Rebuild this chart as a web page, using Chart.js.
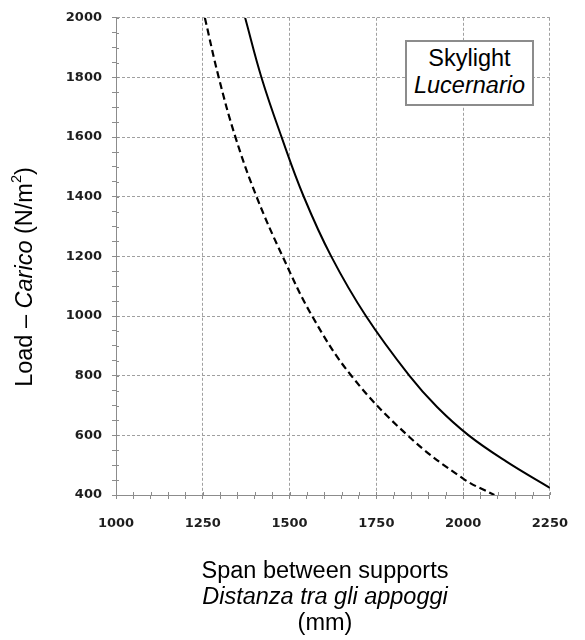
<!DOCTYPE html>
<html>
<head>
<meta charset="utf-8">
<script src="https://cdn.jsdelivr.net/npm/chart.js@4.4.1/dist/chart.umd.min.js"></script>
<style>
    body { margin: 0; background: #fff; }
    #wrap { position: relative; width: 585px; height: 640px; font-family: 'Liberation Sans', Arial, sans-serif; color: #000; }
    canvas { position: absolute; left: 0; top: 0; }
    .titulo { position: absolute; font-size: 23.5px; line-height: 26px; text-align: center; white-space: nowrap; }
    #tituloX { left: 125px; top: 557px; width: 400px; }
    #tituloY { left: -126px; top: 264px; width: 300px; height: 26px; transform: rotate(-90deg); }
    #legenda { left: 405px; top: 40px; width: 129px; height: 66px; box-sizing: border-box; border: 2px solid #8c8c8c; background: #fff; padding-top: 3px; line-height: 26.5px; }
    sup { font-size: 0.62em; line-height: 0; vertical-align: 0.75em; }
</style>
</head>
<body>
<div id="wrap">
    <canvas id="grafico" width="585" height="640"></canvas>
    <div class="titulo" id="tituloY">Load – <i>Carico</i> (N/m<sup>2</sup>)</div>
    <div class="titulo" id="tituloX">Span between supports<br><i>Distanza tra gli appoggi</i><br>(mm)</div>
    <div class="titulo" id="legenda">Skylight<br><i>Lucernario</i></div>
</div>
<script>
// valores (cruzamentos com a grade)
const vaoContinuo = [1372, 1419, 1477, 1541, 1620, 1720, 1845, 1925, 2016, 2125, 2250]
const cargaContinua = [2000, 1800, 1600, 1400, 1200, 1000, 800, 695, 600, 512, 424]

const vaoTracejado = [1256, 1296, 1344, 1405, 1480, 1565, 1678, 1840, 2000, 2090]
const cargaTracejada = [2000, 1800, 1600, 1400, 1200, 1000, 800, 600, 455, 400]

const eixoX = { min: 1000, max: 2250, passo: 50, rotulo: 250 }
const eixoY = { min: 400, max: 2000, passo: 50, rotulo: 200 }

const corGrade = '#a0a0a0'
const corEixo = '#8c8c8c'

function pontos(xs, ys) {
    return xs.map((x, i) => ({ x: x, y: ys[i] }))
}

// marcas pequenas que cruzam o eixo (o chart.js so desenha para fora)
const marcasInternas = {
    id: 'marcasInternas',
    beforeDatasetsDraw(chart) {
        const { ctx, chartArea, scales } = chart
        ctx.save()
        ctx.strokeStyle = corEixo
        ctx.lineWidth = 1
        ctx.beginPath()
        scales.x.ticks.forEach(t => {
            const px = Math.round(scales.x.getPixelForValue(t.value)) + 0.5
            ctx.moveTo(px, chartArea.bottom)
            ctx.lineTo(px, chartArea.bottom - 3)
        })
        scales.y.ticks.forEach(t => {
            const py = Math.round(scales.y.getPixelForValue(t.value)) + 0.5
            ctx.moveTo(chartArea.left, py)
            ctx.lineTo(chartArea.left + 3, py)
        })
        ctx.stroke()
        ctx.restore()
    }
}

Chart.defaults.font.family = "'DejaVu Sans', sans-serif"

const fonteTicks = { family: "'DejaVu Sans', sans-serif", size: 13, weight: 'bold' }

new Chart(document.getElementById('grafico'), {
    type: 'line',
    data: {
        datasets: [{
            label: 'continua',
            data: pontos(vaoContinuo, cargaContinua),
            borderColor: '#000',
            borderWidth: 2,
            pointRadius: 0,
            tension: 0.4,
            fill: false
        }, {
            label: 'tracejada',
            data: pontos(vaoTracejado, cargaTracejada),
            borderColor: '#000',
            borderWidth: 2.2,
            borderDash: [7, 4],
            pointRadius: 0,
            tension: 0.4,
            fill: false
        }]
    },
    options: {
        responsive: false,
        animation: false,
        layout: { padding: { top: 16, right: 19, left: 0, bottom: 0 } },
        plugins: {
            legend: { display: false },
            tooltip: { enabled: false },
            title: { display: false }
        },
        scales: {
            x: {
                type: 'linear',
                min: eixoX.min,
                max: eixoX.max,
                afterFit: (scale) => { scale.height = 145 },
                ticks: {
                    stepSize: eixoX.passo,
                    autoSkip: false,
                    maxRotation: 0,
                    padding: 17,
                    color: '#1e1e1e',
                    font: fonteTicks,
                    callback: (v) => v % eixoX.rotulo === 0 ? v : ''
                },
                grid: {
                    color: (c) => c.tick && c.tick.value % eixoX.rotulo === 0 ? corGrade : 'transparent',
                    lineWidth: 1,
                    tickColor: corEixo,
                    tickLength: 4
                },
                border: { display: true, color: corEixo, width: 1, dash: [3, 2] }
            },
            y: {
                type: 'linear',
                min: eixoY.min,
                max: eixoY.max,
                afterFit: (scale) => { scale.width = 116 },
                ticks: {
                    stepSize: eixoY.passo,
                    autoSkip: false,
                    padding: 10,
                    color: '#1e1e1e',
                    font: fonteTicks,
                    callback: (v) => v % eixoY.rotulo === 0 ? v : ''
                },
                grid: {
                    color: (c) => c.tick && c.tick.value % eixoY.rotulo === 0 ? corGrade : 'transparent',
                    lineWidth: 1,
                    tickColor: corEixo,
                    tickLength: 4
                },
                border: { display: true, color: corEixo, width: 1, dash: [3, 2] }
            }
        }
    },
    plugins: [marcasInternas]
})
</script>
</body>
</html>
